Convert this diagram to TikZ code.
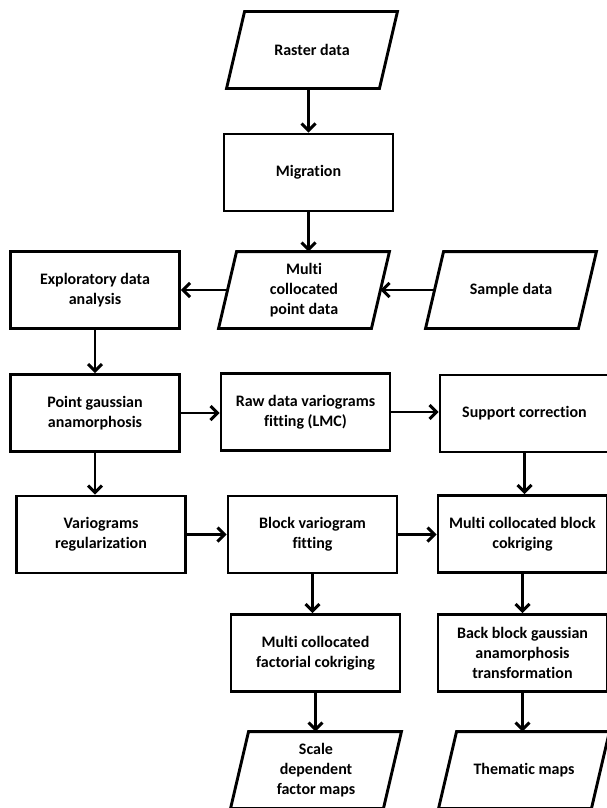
\documentclass[tikz,border=0pt]{standalone}
\usepackage{fontspec}
\setmainfont[Ligatures={NoCommon,NoRare}]{Carlito}
\usetikzlibrary{arrows.meta}

\begin{document}
\begin{tikzpicture}
[x=1pt,y=-1pt,line width=2.9pt,
 every node/.style={align=center,font=\bfseries\fontsize{16}{20}\selectfont},
 box/.style={draw,minimum width=169pt,minimum height=77pt,inner sep=2pt},
 para/.style={minimum width=150pt,minimum height=74pt,inner sep=0pt},
 arr/.style={-{Straight Barb[length=7pt,width=14pt]}}]
\useasboundingbox (0,0) rectangle (606,808);
\node[para] (raster) at (312,50) {Raster data};
\node[box] (migr) at (308.5,172.5) {Migration};
\node[para] (multi) at (304,290) {Multi\\collocated\\point data};
\node[para] (sample) at (511,290) {Sample data};
\node[box] (eda) at (95,290) {Exploratory data\\analysis};
\node[box] (pga) at (95,413) {Point gaussian\\anamorphosis};
\node[box] (raw) at (305.5,412) {Raw data variograms\\fitting (LMC)};
\node[box] (supp) at (524.5,413.5) {Support correction};
\node[box] (vreg) at (101,534.5) {Variograms\\regularization};
\node[box] (bvf) at (312.5,534.5) {Block variogram\\fitting};
\node[box] (mcbc) at (522.5,534) {Multi collocated block\\cokriging};
\node[box] (mcfc) at (315.5,653) {Multi collocated\\factorial cokriging};
\node[box] (bbga) at (522.5,653) {Back block gaussian\\anamorphosis\\transformation};
\node[para] (sdfm) at (316,770) {Scale\\dependent\\factor maps};
\node[para] (thematic) at (524,770) {Thematic maps};
% parallelogram outlines
\foreach \n in {raster,multi,sample,sdfm,thematic}
\draw ([xshift=9pt]\n.north west) -- ([xshift=9pt]\n.north east) -- ([xshift=-9pt]\n.south east) -- ([xshift=-9pt]\n.south west) -- cycle;
% arrows
\draw[arr] (migr.north |- raster.south) -- (migr.north);
\foreach \from/\to in {migr/multi,eda/pga,pga/vreg,supp/mcbc,bvf/mcfc,mcbc/bbga,mcfc/sdfm,bbga/thematic}
\draw[arr] (\from.south) -- (\from.south |- \to.north);
\foreach \from/\to in {pga/raw,raw/supp,vreg/bvf,bvf/mcbc}
\draw[arr] (\from.east) -- (\from.east -| \to.west);
\foreach \from/\to in {multi/eda,sample/multi}
\draw[arr] (\from.west) -- (\from.west -| \to.east);
\end{tikzpicture}
\end{document}
